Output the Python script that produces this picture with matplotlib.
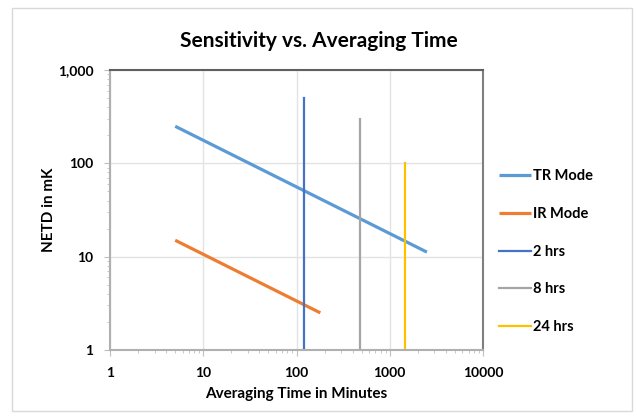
import numpy as np
import matplotlib.pyplot as plt
from matplotlib.patches import Rectangle
from matplotlib.ticker import FixedLocator, LogLocator, NullFormatter

plt.rcParams['font.family'] = ['Lato', 'DejaVu Sans']

# series
tr_t = [5, 2500]
tr_netd = [250, 11.2]
ir_t = [5, 180]
ir_netd = [15, 2.5]
marks = [("2 hrs", 120, 500, '#4472C4'),
         ("8 hrs", 480, 300, '#A5A5A5'),
         ("24 hrs", 1440, 100, '#FFC000')]

xticks = [1, 10, 100, 1000, 10000]
xticklabels = ['1', '10', '100', '1000', '10000']
yticks = [1, 10, 100, 1000]
yticklabels = ['1', '10', '100', '1,000']

fig = plt.figure(figsize=(6.37, 4.19), dpi=100)
fig.patches.append(Rectangle((0.019, 0.02), 0.973, 0.962, transform=fig.transFigure,
                             fill=False, edgecolor='#D9D9D9', linewidth=1))
ax = fig.add_axes([0.1727, 0.1647, 0.5856, 0.668])

ax.plot(tr_t, tr_netd, color='#5B9BD5', linewidth=2.3, label='TR Mode', solid_capstyle='butt')
ax.plot(ir_t, ir_netd, color='#ED7D31', linewidth=2.3, label='IR Mode', solid_capstyle='butt')
for name, t, top, c in marks:
    ax.plot([t, t], [1, top], color=c, linewidth=1.6, label=name)

ax.set_xscale('log')
ax.set_yscale('log')
ax.set_xlim(1, 10000)
ax.set_ylim(1, 1000)
ax.xaxis.set_major_locator(FixedLocator(xticks))
ax.set_xticklabels(xticklabels)
ax.yaxis.set_major_locator(FixedLocator(yticks))
ax.set_yticklabels(yticklabels)
ax.xaxis.set_minor_locator(LogLocator(subs=np.arange(2, 10)))
ax.yaxis.set_minor_locator(LogLocator(subs=np.arange(2, 10)))
ax.xaxis.set_minor_formatter(NullFormatter())
ax.yaxis.set_minor_formatter(NullFormatter())
ax.grid(True, which='major', color='#E3E3E3', linewidth=1)
ax.set_axisbelow(True)

for lab in ax.get_xticklabels() + ax.get_yticklabels():
    lab.set_fontweight('bold')
    lab.set_fontsize(10)
ax.tick_params(which='major', length=4, color='#BFBFBF', direction='out', pad=8)
ax.tick_params(which='minor', length=2.5, color='#BFBFBF', direction='out')

ax.spines['left'].set_color('#B0B0B0')
ax.spines['bottom'].set_color('#B0B0B0')
ax.spines['top'].set_color('#606060')
ax.spines['right'].set_color('#808080')
for s in ax.spines.values():
    s.set_linewidth(1.5)

ax.set_xlabel('Averaging Time in Minutes', fontsize=11, fontweight='bold', labelpad=6)
ax.set_ylabel('NETD in mK', fontsize=11, fontweight='bold', labelpad=1)
fig.suptitle('Sensitivity vs. Averaging Time', fontsize=15, fontweight='bold', y=0.925)

leg = ax.legend(loc='upper left', bbox_to_anchor=(0.763, 0.627), bbox_transform=fig.transFigure,
                frameon=False, handlelength=2.2, handletextpad=0.1, labelspacing=1.62,
                prop={'weight': 'bold', 'size': 10.5})

fig.savefig('out.png', dpi=100)
